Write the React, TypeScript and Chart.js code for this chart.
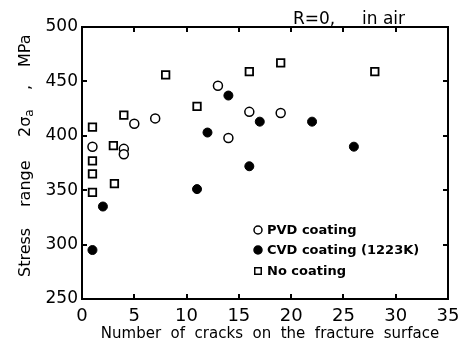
import React, { useEffect, useRef } from 'react';
import { Chart, registerables } from 'chart.js';

Chart.register(...registerables);

// ---- data ----
const pvdX = [1, 4, 4, 5, 7, 13, 14, 16, 19];
const pvdY = [390, 388, 383, 411, 416, 446, 398, 422, 421];
const cvdX = [1, 2, 11, 12, 14, 16, 17, 22, 26];
const cvdY = [295, 335, 351, 403, 437, 372, 413, 413, 390];
const noX = [1, 1, 1, 1, 3, 3.1, 4, 8, 11, 16, 19, 28];
const noY = [408, 377, 365, 348, 391, 356, 419, 456, 427, 459, 467, 459];

const seriesLabels = ['PVD coating', 'CVD coating (1223K)', 'No coating'];
const xTickValues = [5, 10, 15, 20, 25, 30];
const yTickValues = [300, 350, 400, 450];
const xTitleText = 'Number  of  cracks  on  the  fracture  surface';
const annotationLeft = 'R=0,';
const annotationRight = 'in air';
const xMin = 0, xMax = 35, xStep = 5;
const yMin = 250, yMax = 500, yStep = 50;

const FONT = '"DejaVu Sans", sans-serif';

const pts = (xs: number[], ys: number[]) => xs.map((x, i) => ({ x, y: ys[i] }));

const overlay = {
  id: 'overlay',
  afterDraw(chart: any) {
    const { ctx, chartArea: a, scales } = chart;
    const xs = scales.x, ys = scales.y;
    ctx.save();
    ctx.setLineDash([]);
    ctx.globalAlpha = 1;
    ctx.globalCompositeOperation = 'source-over';
    ctx.fillStyle = '#000';
    const L = Math.round(a.left), R = Math.round(a.right), T = Math.round(a.top), B = Math.round(a.bottom);
    // frame (filled rects for crisp lines)
    ctx.fillRect(L - 1, T - 1, 2, B - T + 2);      // left
    ctx.fillRect(L - 1, B - 1, R - L + 2, 2);      // bottom
    ctx.fillRect(L - 1, T - 1, R - L + 2, 2);      // top
    ctx.fillRect(R - 1, T - 1, 2, B - T + 2);      // right
    // inward ticks
    const tl = 5;
    xTickValues.forEach((v) => {
      const p = Math.round(xs.getPixelForValue(v));
      ctx.fillRect(p - 1, B - tl, 2, tl);
      ctx.fillRect(p - 1, T, 2, tl);
    });
    yTickValues.forEach((v) => {
      const p = Math.round(ys.getPixelForValue(v));
      ctx.fillRect(L, p - 1, tl, 2);
      ctx.fillRect(R - tl, p - 1, tl, 2);
    });

    // legend
    const lx = a.left + 176;
    const rows = [a.top + 203, a.top + 223, a.top + 244];
    ctx.font = 'bold 13px ' + FONT;
    ctx.textBaseline = 'middle';
    ctx.textAlign = 'left';
    ctx.strokeStyle = '#000';
    chart.data.datasets.forEach((ds: any, i: number) => {
      const y = rows[i];
      ctx.lineWidth = 1.5;
      if (ds.pointStyle === 'rect') {
        ctx.fillStyle = '#fff';
        ctx.fillRect(lx - 3.5, y - 3.5, 7, 7);
        ctx.fillStyle = '#000';
        ctx.fillRect(lx - 4, y - 4, 8, 1.5);
        ctx.fillRect(lx - 4, y + 2.5, 8, 1.5);
        ctx.fillRect(lx - 4, y - 4, 1.5, 8);
        ctx.fillRect(lx + 2.5, y - 4, 1.5, 8);
      } else {
        ctx.beginPath();
        ctx.arc(lx, y, 4, 0, Math.PI * 2);
        ctx.fillStyle = ds.backgroundColor;
        ctx.fill();
        ctx.stroke();
      }
      ctx.fillStyle = '#000';
      ctx.fillText(ds.label, lx + 9, y + 1);
    });

    // annotation
    ctx.font = '17px ' + FONT;
    ctx.textBaseline = 'alphabetic';
    ctx.fillText(annotationLeft, a.left + 211, a.top - 3);
    ctx.fillText(annotationRight, a.left + 280, a.top - 3);

    // x title
    ctx.font = '15px ' + FONT;
    ctx.textAlign = 'center';
    ctx.textBaseline = 'middle';
    ctx.fillText(xTitleText, (a.left + a.right) / 2 + 5, a.bottom + 35);

    // y title (rotated pieces)
    ctx.translate(26, 0);
    ctx.rotate(-Math.PI / 2);
    ctx.textAlign = 'left';
    ctx.textBaseline = 'middle';
    ctx.font = '16px ' + FONT;
    const put = (text: string, pageYBottom: number, font?: string, dy = 0) => {
      if (font) ctx.font = font;
      ctx.fillText(text, -pageYBottom, dy);
      return ctx.measureText(text).width;
    };
    put('Stress', a.top + 250);
    put('range', a.top + 180);
    const w2 = put('2σ', a.top + 110, '16px ' + FONT);
    put('a', a.top + 110 - w2, '12px ' + FONT, 4);
    put(',', a.top + 63, '16px ' + FONT);
    put('MPa', a.top + 40, '16px ' + FONT);
    ctx.restore();
  },
};

export default function App() {
  const ref = useRef<HTMLCanvasElement | null>(null);
  useEffect(() => {
    if (!ref.current) return;
    const chart = new Chart(ref.current, {
      type: 'scatter',
      data: {
        datasets: [
          {
            label: seriesLabels[0],
            data: pts(pvdX, pvdY),
            pointStyle: 'circle',
            pointRadius: 4.5,
            backgroundColor: '#fff',
            borderColor: '#000',
            borderWidth: 1.5,
          },
          {
            label: seriesLabels[1],
            data: pts(cvdX, cvdY),
            pointStyle: 'circle',
            pointRadius: 4.5,
            backgroundColor: '#000',
            borderColor: '#000',
            borderWidth: 1,
          },
          {
            label: seriesLabels[2],
            data: pts(noX, noY),
            pointStyle: 'rect',
            pointRadius: 5.3,
            backgroundColor: '#fff',
            borderColor: '#000',
            borderWidth: 1.8,
          },
        ],
      } as any,
      options: {
        animation: false,
        responsive: false,
        devicePixelRatio: 1,
        layout: { padding: { top: 27, right: 13, left: 0, bottom: 0 } },
        plugins: { legend: { display: false }, tooltip: { enabled: false } },
        scales: {
          x: {
            type: 'linear',
            min: xMin,
            max: xMax,
            ticks: { stepSize: xStep, color: '#000', font: { family: FONT, size: 18 }, padding: 7, maxRotation: 0 },
            grid: { display: false, drawTicks: false },
            border: { display: false },
            afterFit: (s: any) => { s.height = 43; s.paddingLeft = 0; s.paddingRight = 0; },
          },
          y: {
            type: 'linear',
            min: yMin,
            max: yMax,
            ticks: { stepSize: yStep, color: '#000', font: { family: FONT, size: 17 }, padding: 4 },
            grid: { display: false, drawTicks: false },
            border: { display: false },
            afterFit: (s: any) => { s.width = 82; s.paddingTop = 0; s.paddingBottom = 0; },
          },
        },
      } as any,
      plugins: [overlay],
    });
    return () => chart.destroy();
  }, []);
  return (
    <div style={{ position: 'absolute', left: 0, top: 0, width: 461, height: 342, background: '#fff' }}>
      <canvas ref={ref} width={461} height={342} />
    </div>
  );
}
